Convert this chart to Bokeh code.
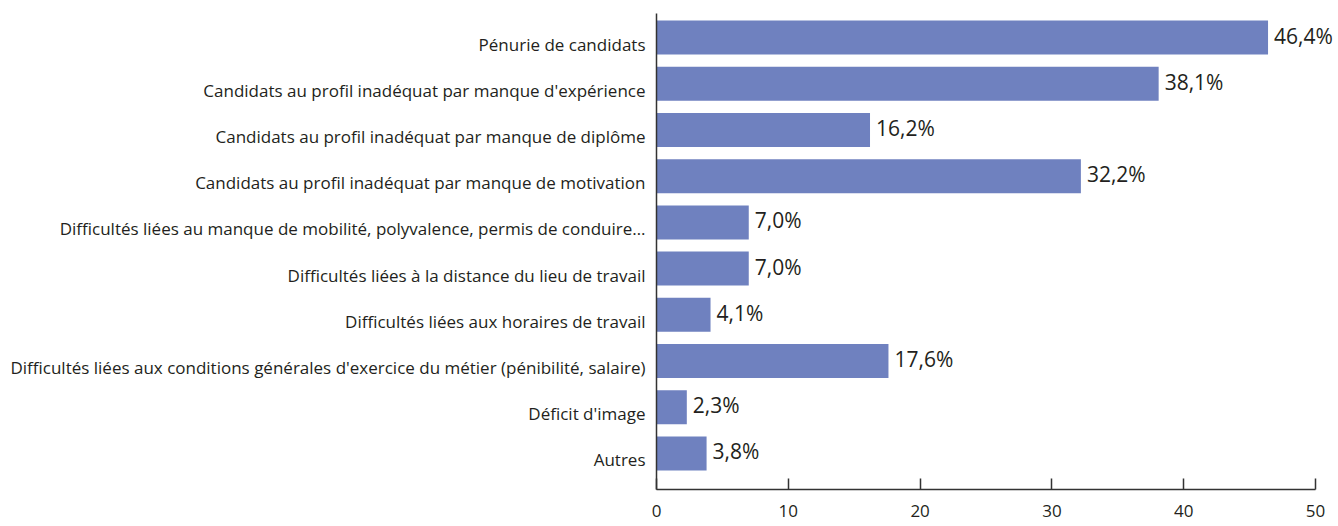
from bokeh.plotting import figure
from bokeh.models import ColumnDataSource, Range1d, FixedTicker, LabelSet
from bokeh.embed import file_html
from bokeh.resources import INLINE
from bokeh.core.properties import value

categories = [
    "Pénurie de candidats",
    "Candidats au profil inadéquat par manque d'expérience",
    "Candidats au profil inadéquat par manque de diplôme",
    "Candidats au profil inadéquat par manque de motivation",
    "Difficultés liées au manque de mobilité, polyvalence, permis de conduire…",
    "Difficultés liées à la distance du lieu de travail",
    "Difficultés liées aux horaires de travail",
    "Difficultés liées aux conditions générales d'exercice du métier (pénibilité, salaire)",
    "Déficit d'image",
    "Autres",
]
values = [46.4, 38.1, 16.2, 32.2, 7.0, 7.0, 4.1, 17.6, 2.3, 3.8]
value_labels = ["46,4%", "38,1%", "16,2%", "32,2%", "7,0%", "7,0%", "4,1%", "17,6%", "2,3%", "3,8%"]
x_ticks = [0, 10, 20, 30, 40, 50]

pos = list(range(len(categories)))
src = ColumnDataSource(dict(y=pos, v=values, lab=value_labels))

# category labels sit slightly below the bar centres in the original
label_pos = [i + 0.14 for i in pos]

FONT = "Open Sans"
TXT = "#231f20"
AXIS = "#333333"

p = figure(width=1338, height=526, output_backend="svg", toolbar_location=None,
           x_range=Range1d(0, 51.67), y_range=Range1d(9.78, -0.52),
           min_border_left=656, min_border_right=1, min_border_top=13, min_border_bottom=37)
p.outline_line_color = None
p.xgrid.grid_line_color = None
p.ygrid.grid_line_color = None
p.background_fill_color = "white"
p.border_fill_color = "white"

p.hbar(y="y", right="v", left=0, height=0.736, source=src,
       fill_color="#6f81bf", line_color=None)

labels = LabelSet(x="v", y="y", text="lab", source=src, x_offset=6, y_offset=2,
                  text_baseline="middle", text_align="left",
                  text_font=value(FONT), text_font_size="21px", text_color=TXT)
p.add_layout(labels)

xa = p.xaxis[0]
xa.ticker = FixedTicker(ticks=x_ticks)
xa.bounds = (0, 50)
xa.major_tick_in = 11
xa.major_tick_out = 0
xa.minor_tick_in = 0
xa.minor_tick_out = 0
xa.axis_line_color = AXIS
xa.axis_line_width = 1.5
xa.major_tick_line_color = AXIS
xa.major_tick_line_width = 1.5
xa.major_label_standoff = 15
xa.major_label_text_font = FONT
xa.major_label_text_font_size = "17px"
xa.major_label_text_color = TXT

ya = p.yaxis[0]
ya.ticker = FixedTicker(ticks=label_pos)
ya.major_label_overrides = {t: c for t, c in zip(label_pos, categories)}
ya.major_tick_in = 0
ya.major_tick_out = 0
ya.minor_tick_in = 0
ya.minor_tick_out = 0
ya.axis_line_color = AXIS
ya.axis_line_width = 1.5
ya.major_label_standoff = 11
ya.major_label_text_font = FONT
ya.major_label_text_font_size = "17px"
ya.major_label_text_color = TXT

open("out.html", "w").write(file_html(p, INLINE))
